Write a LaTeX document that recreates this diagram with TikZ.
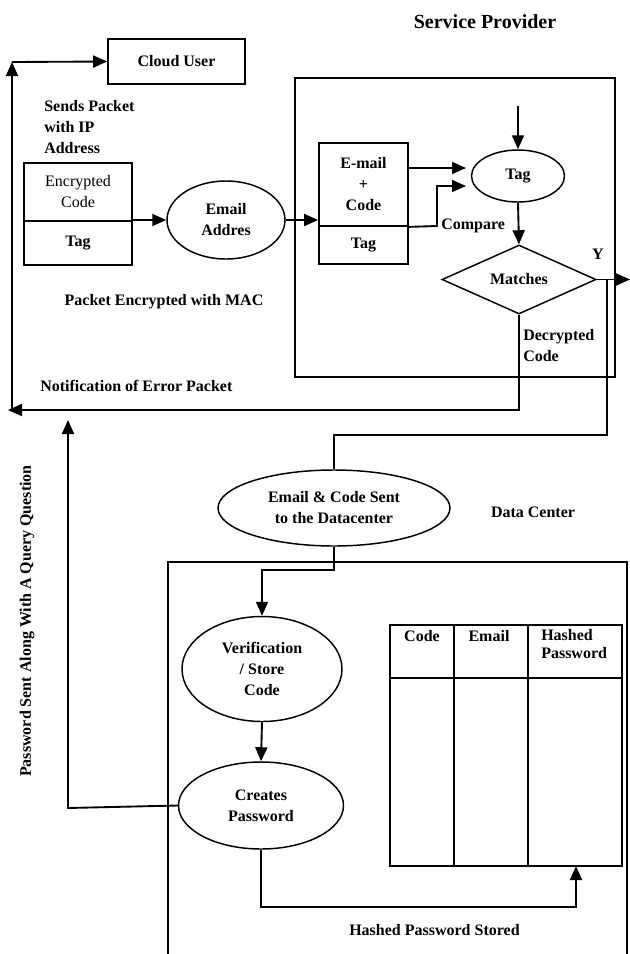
\documentclass[tikz,border=0pt]{standalone}
\usepackage{fontspec}
\setmainfont{Liberation Serif}
\usetikzlibrary{shapes.geometric,arrows.meta}
\begin{document}
\begin{tikzpicture}[x=0.75pt,y=-0.75pt,
  every node/.style={font=\fontsize{12}{15.75}\selectfont\bfseries, inner sep=0pt},
  box/.style={draw, line width=1.3pt, rectangle},
  ell/.style={draw, line width=1.1pt, ellipse},
  conn/.style={line width=1.4pt},
  arr/.style={line width=1.4pt, -{Triangle[length=10.5pt,width=9pt]}},
  lbl/.style={align=left},
  hdr/.style={font=\fontsize{12}{13.3}\selectfont\bfseries, align=left}]
\useasboundingbox (0,0) rectangle (630,954);

% title
\node[font=\fontsize{15}{18}\selectfont\bfseries] (sptitle) at (485,22) {Service Provider};

% Cloud user
\node[box, minimum width=102.75pt, minimum height=33.75pt] (cloud) at (176.5,61.5) {Cloud User};
\node[lbl, anchor=west] (sends) at (44,127) {Sends Packet\\with IP\\Address};

% Encrypted packet
\node[box, minimum width=81pt, minimum height=43.5pt, font=\fontsize{12}{15.75}\selectfont, align=center] (enc) at (78,192) {Encrypted\\Code};
\node[box, minimum width=81pt, minimum height=33pt] (enctag) at (78,243) {Tag};
\node[ell, minimum width=88.5pt, minimum height=58.5pt, align=center] (email) at (226,220) {Email\\Addres};
\node (mac) at (164,302) {Packet Encrypted with MAC};
\node[anchor=west] (notif) at (40,386) {Notification of Error Packet};

% Service provider box
\node[box, minimum width=240pt, minimum height=224.25pt] (spbox) at (455,227.5) {};
\node[box, minimum width=66.75pt, minimum height=62.25pt, align=center] (emcode) at (363.5,184.5) {E-mail\\+\\Code};
\node[box, minimum width=66.75pt, minimum height=28.5pt] (emtag) at (363.5,245) {Tag};
\node[ell, minimum width=69.75pt, minimum height=39pt] (tag) at (518,176) {Tag};
\node[draw, line width=1.1pt, diamond, minimum width=115.5pt, minimum height=48.75pt] (match) at (519,279.5) {Matches};
\node[anchor=west] (compare) at (441,226) {Compare};
\node (ylbl) at (598,254) {Y};
\node[lbl, anchor=west] (decr) at (523,346) {Decrypted\\Code};

\coordinate (tagtop) at (518,106);
\coordinate (tagin1) at (466,168);
\coordinate (tagin2) at (466,186);
\coordinate (yend) at (630,279.5);

% Data center
\node[ell, minimum width=174pt, minimum height=57pt, align=center] (sent) at (334,508) {Email \& Code Sent\\to the Datacenter};
\node (dclbl) at (533,512) {Data Center};
\draw[conn] (168,954) -- (168,562) -- (627,562) -- (627,954);
\node[ell, minimum width=120pt, minimum height=78.75pt, align=center] (verif) at (262,669) {Verification\\/ Store\\Code};
\node[ell, minimum width=123.75pt, minimum height=65.25pt, align=center] (creates) at (261,805.5) {Creates\\Password};
\node[rotate=90] (pwsent) at (27,621) {Password Sent Along With A Query Question};
\node[anchor=west] (stored) at (349,930) {Hashed Password Stored};

% table
\node[box, minimum width=174pt, minimum height=180.75pt] (table) at (506,745.5) {};
\draw[conn] (454,625) -- (454,866);
\draw[conn] (528,625) -- (528,866);
\draw[conn] (390,678) -- (622,678);
\node (hcode) at (422,636) {Code};
\node (hemail) at (489,636) {Email};
\node[hdr, anchor=west] (hhash) at (541,644) {Hashed\\Password};
\coordinate (tablein) at (576,866);

% connectors
\draw[arr] (12,410) -- (12,62);
\draw[arr] (12,62) -- (cloud.west);
\draw[arr] (132,220) -- (email.west);
\draw[arr] (email.east) -- (emcode.west |- email.east);
\draw[arr] (emcode.east |- tagin1) -- (tagin1);
\draw[arr] (emcode.south east) -- (437,226) -- (437,186) -- (tagin2);
\draw[arr] (tagtop) -- (tag.north);
\draw[arr] (tag.south) -- (match.north);
\draw[arr] (match.east) -- (yend);
\draw[arr] (match.south) -- (519,410) -- (8,410);
\draw[conn] (607,279.5) -- (607,435) -- (sent.north |- 0,435) -- (sent.north);
\draw[arr] (sent.south) -- (334,570) -- (262,570) -- (verif.north);
\draw[arr] (verif.south) -- (creates.north);
\draw[arr] (creates.west) -- (68,808) -- (68,420);
\draw[arr] (creates.south) -- (261,907) -- (576,907) -- (tablein);
\end{tikzpicture}
\end{document}
